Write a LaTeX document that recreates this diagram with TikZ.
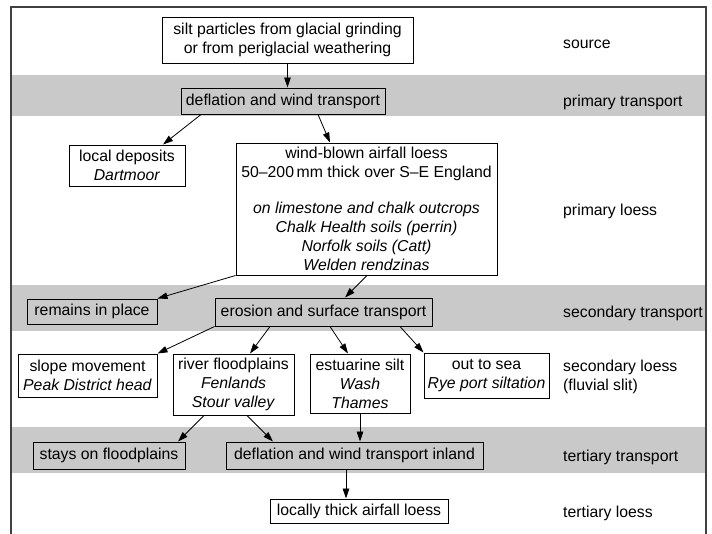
\documentclass[tikz,border=0pt]{standalone}
\usepackage{fontspec}
\setmainfont{Liberation Sans}
\usetikzlibrary{arrows.meta}
\definecolor{bandgray}{RGB}{201,201,202}
\begin{document}
\begin{tikzpicture}[x=1pt,y=-1pt,
  font=\fontsize{15.8}{19}\selectfont,
  box/.style={draw=black, line width=1pt, fill=white, inner sep=0pt, align=center},
  gbox/.style={box, fill=bandgray},
  lab/.style={anchor=base west, inner sep=0pt, align=left},
  conn/.style={line width=0.8pt, -{Triangle[length=10pt,width=6.5pt]}}]
\useasboundingbox (0,0) rectangle (712,533);
% bands
\fill[bandgray] (11,75) rectangle (706,116);
\fill[bandgray] (11,285) rectangle (706,331);
\fill[bandgray] (11,427) rectangle (706,473);
% frame
\draw[line width=1.6pt, black!75] (11,540) -- (11,7) -- (706,7) -- (706,540);
% nodes
\node[box, minimum width=251, minimum height=46] (src) at (287.5,40)
  {silt particles from glacial grinding\\or from periglacial weathering};
\node[gbox, minimum width=204, minimum height=26] (defl) at (283,101)
  {deflation and wind transport};
\node[box, minimum width=116, minimum height=41] (local) at (127,165.5)
  {local deposits\\\textit{Dartmoor}};
\node[box, minimum width=261, minimum height=132] (wind) at (366.5,209)
  {wind-blown airfall loess\\50--200\,mm thick over S--E England\\[17pt]
   \textit{on limestone and chalk outcrops}\\\textit{Chalk Health soils (perrin)}\\
   \textit{Norfolk soils (Catt)}\\\textit{Welden rendzinas}};
\node[gbox, minimum width=130, minimum height=25] (remains) at (92,311.5)
  {remains in place};
\node[gbox, minimum width=217, minimum height=28] (eros) at (323.5,312)
  {erosion and surface transport};
\node[box, minimum width=139, minimum height=43] (slope) at (87.5,375.5)
  {slope movement\\\textit{Peak District head}};
\node[box, minimum width=121, minimum height=61] (river) at (233.5,384.5)
  {river floodplains\\\textit{Fenlands}\\\textit{Stour valley}};
\node[box, minimum width=100, minimum height=59] (estu) at (360,383.5)
  {estuarine silt\\\textit{Wash}\\\textit{Thames}};
\node[box, minimum width=125, minimum height=45] (sea) at (486.5,375.5)
  {out to sea\\\textit{Rye port siltation}};
\node[gbox, minimum width=152, minimum height=27] (stays) at (109,455.5)
  {stays on floodplains};
\node[gbox, minimum width=257, minimum height=27] (inland) at (354.5,455.5)
  {deflation and wind transport inland};
\node[box, minimum width=178, minimum height=24] (thick) at (359,511)
  {locally thick airfall loess};
% labels
\node[lab] (l1) at (563,48) {source};
\node[lab] (l2) at (563,106) {primary transport};
\node[lab] (l3) at (563,215) {primary loess};
\node[lab] (l4) at (563,317) {secondary transport};
\node[lab] (l5) at (563,390) {secondary loess\\(fluvial slit)};
\node[lab] (l6) at (563,461) {tertiary transport};
\node[lab] (l7) at (563,517) {tertiary loess};
% connectors
\draw[conn] (src.south) -- (src.south |- defl.north);
\draw[conn] ([xshift=-82]defl.south) -- ([xshift=36]local.north);
\draw[conn] ([xshift=35]defl.south) -- ([xshift=-36.5]wind.north);
\draw[conn] (wind.south west) -- (remains.north east);
\draw[conn] ([xshift=0.5]wind.south) -- ([xshift=21.5]eros.north);
\draw[conn] (eros.south west) -- (slope.north east);
\draw[conn] ([xshift=-53.5]eros.south) -- ([xshift=16.5]river.north);
\draw[conn] ([xshift=6.5]eros.south) -- ([xshift=-12]estu.north);
\draw[conn] ([xshift=76.5]eros.south) -- (sea.north west);
\draw[conn] ([xshift=-29.5]river.south) -- ([xshift=69]stays.north);
\draw[conn] ([xshift=13.5]river.south) -- ([xshift=-81.5]inland.north);
\draw[conn] (estu.south) -- (estu.south |- inland.north);
\draw[conn] ([xshift=-8.5]inland.south) -- ([xshift=-8.5]inland.south |- thick.north);
\end{tikzpicture}
\end{document}
